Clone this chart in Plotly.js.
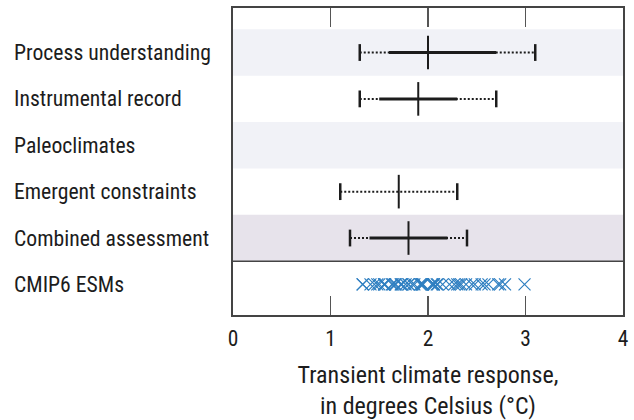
<!DOCTYPE html>
<html>
<head>
<meta charset="utf-8">
<script src="https://cdn.plot.ly/plotly-3.0.1.min.js"></script>
<style>html,body{margin:0;padding:0;background:#fff;}#chart{width:634px;height:420px;}</style>
</head>
<body>
<div id="chart"></div>
<script>
// Rows, top to bottom
const categories = ["Process understanding", "Instrumental record", "Paleoclimates", "Emergent constraints", "Combined assessment", "CMIP6 ESMs"];
// Assessed transient climate response (°C)
const veryLikelyLow  = [1.3, 1.3, null, 1.1, 1.2];
const likelyLow      = [1.6, 1.5, null, null, 1.4];
const centralValue   = [2.0, 1.9, null, 1.7, 1.8];
const likelyHigh     = [2.7, 2.3, null, null, 2.2];
const veryLikelyHigh = [3.1, 2.7, null, 2.3, 2.4];
// Individual CMIP6 model TCR values (°C)
const cmip6TCR = [2.10, 1.95, 2.06, 1.72, 1.77, 1.73, 2.74, 2.06, 1.92, 2.39, 2.09, 2.22, 2.48, 1.86, 2.99,
  2.30, 2.62, 1.94, 1.50, 2.05, 1.63, 1.80, 1.93, 1.73, 2.55, 2.58, 1.67, 1.33, 1.41, 2.32, 2.04, 1.94,
  1.55, 1.55, 1.80, 1.66, 1.84, 1.64, 2.72, 1.56, 1.48, 1.33, 2.27, 2.34, 2.79, 1.45, 2.15, 2.45];
const xTickValues = [0, 1, 2, 3, 4];
const xTickLabels = ["0", "1", "2", "3", "4"];

const FONT = '"Liberation Sans Narrow", "Roboto Condensed", "DejaVu Sans Condensed", Roboto, sans-serif';
const INK = '#1c1c1c';
const traces = [];

for (let i = 0; i < veryLikelyLow.length; i++) {
  const yv = i + 1;
  if (veryLikelyLow[i] !== null) {
    traces.push({type: 'scatter', mode: 'lines', x: [veryLikelyLow[i], veryLikelyHigh[i]], y: [yv, yv],
      line: {color: INK, width: 2, dash: '2px,2px'}, hoverinfo: 'skip', showlegend: false});
    traces.push({type: 'scatter', mode: 'markers', x: [veryLikelyLow[i], veryLikelyHigh[i]], y: [yv, yv],
      marker: {symbol: 'line-ns', size: 12, line: {color: INK, width: 2.5}}, showlegend: false});
  }
  if (likelyLow[i] !== null) {
    traces.push({type: 'scatter', mode: 'lines', x: [likelyLow[i], likelyHigh[i]], y: [yv, yv],
      line: {color: INK, width: 3}, showlegend: false});
  }
  if (centralValue[i] !== null) {
    traces.push({type: 'scatter', mode: 'markers', x: [centralValue[i]], y: [yv],
      marker: {symbol: 'line-ns', size: 24, line: {color: INK, width: 2}}, showlegend: false});
  }
}

traces.push({type: 'scatter', mode: 'markers', x: cmip6TCR, y: cmip6TCR.map(() => categories.length),
  marker: {symbol: 'x-thin', size: 12, line: {color: '#2f7fc1', width: 1.2}}, showlegend: false});

const shapes = [
  {type: 'rect', xref: 'paper', yref: 'y', x0: 0, x1: 1, y0: 0.5, y1: 1.5, fillcolor: '#f1f2f7', line: {width: 0}, layer: 'below'},
  {type: 'rect', xref: 'paper', yref: 'y', x0: 0, x1: 1, y0: 2.5, y1: 3.5, fillcolor: '#f1f2f7', line: {width: 0}, layer: 'below'},
  {type: 'rect', xref: 'paper', yref: 'y', x0: 0, x1: 1, y0: 4.5, y1: 5.5, fillcolor: '#e7e3eb', line: {width: 0}, layer: 'below'},
  {type: 'line', xref: 'paper', yref: 'y', x0: 0, x1: 1, y0: 5.5, y1: 5.5, line: {color: '#444', width: 1.6}}
];

const annotations = categories.map((c, i) => ({
  text: c, xref: 'paper', yref: 'y', x: -221 / 390, y: i + 1, xanchor: 'left', yanchor: 'middle',
  showarrow: false, font: {family: FONT, size: 21.7, color: INK}
}));

const layout = {
  width: 634, height: 420,
  margin: {l: 233, r: 11, t: 8, b: 105, pad: 0},
  paper_bgcolor: '#ffffff', plot_bgcolor: '#ffffff',
  font: {family: FONT, size: 21, color: INK},
  xaxis: {range: [0, 4], tickvals: xTickValues, ticktext: xTickLabels, ticks: 'inside', ticklen: 19, tickwidth: 1.5,
    tickcolor: '#555', showline: true, linecolor: '#444', linewidth: 1.6, mirror: 'ticks', showgrid: false, zeroline: false,
    ticklabelstandoff: 4, tickfont: {family: FONT, size: 21.5, color: INK},
    title: {text: 'Transient climate response,<br>in degrees Celsius (°C)', font: {family: FONT, size: 24, color: INK}, standoff: 22}},
  yaxis: {range: [6.66, 0.04], showticklabels: false, ticks: '', showgrid: false, zeroline: false,
    showline: true, linecolor: '#444', linewidth: 1.6, mirror: true},
  shapes: shapes, annotations: annotations, showlegend: false
};

Plotly.newPlot('chart', traces, layout, {displayModeBar: false, staticPlot: true});
</script>
</body>
</html>
